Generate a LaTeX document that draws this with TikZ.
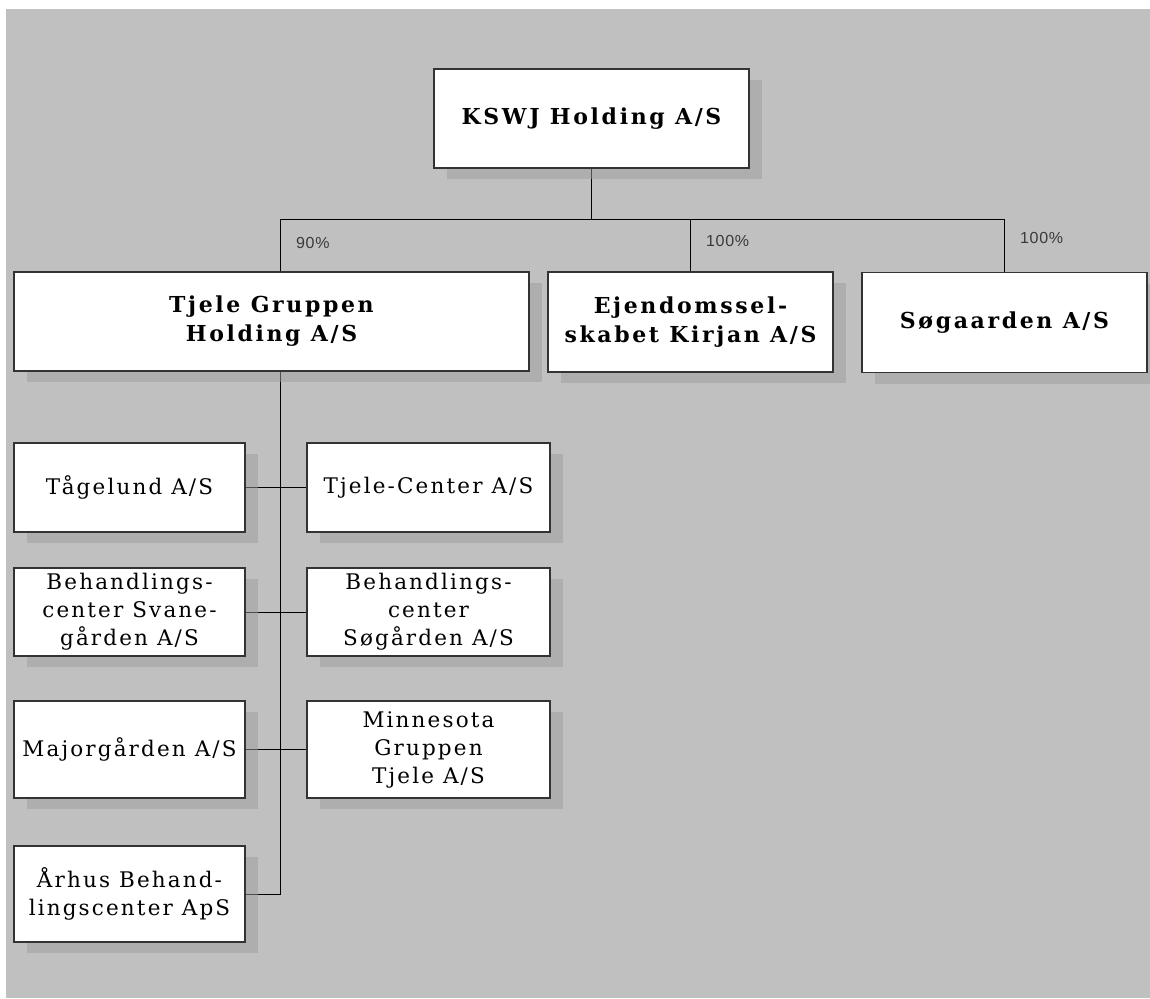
\documentclass[tikz,border=0pt]{standalone}
\usepackage{fontspec}
\usepackage{tikz}
\usetikzlibrary{shadows,backgrounds}
\setmainfont{DejaVu Serif}
\newfontfamily\unitfont{DejaVu Serif}[LetterSpace=10]
\newfontfamily\headfont{DejaVu Serif}[LetterSpace=12]
\newfontfamily\pctfont{Liberation Sans}[LetterSpace=4]
\definecolor{paper}{HTML}{C0C0C0}
\definecolor{edge}{HTML}{333333}
\definecolor{shade}{HTML}{9E9E9E}
\definecolor{pcttext}{HTML}{3A3A3A}
\tikzset{
  firm/.style={draw=edge, fill=white, line width=1.2pt, align=center, inner sep=2pt,
               drop shadow={shadow xshift=13pt, shadow yshift=-11pt, fill=shade, opacity=0.5}},
  head/.style={firm, font=\headfont\bfseries\fontsize{22}{29}\selectfont},
  unit/.style={firm, font=\unitfont\fontsize{21.5}{28}\selectfont},
  leftunit/.style={unit, minimum width=231pt},
  rightunit/.style={unit, minimum width=243pt},
  link/.style={draw=black, line width=1pt},
  pct/.style={font=\pctfont\fontsize{16}{18}\selectfont, text=pcttext, anchor=west, inner sep=0pt},
}

\begin{document}
\begin{tikzpicture}[x=1pt, y=-1pt]
  \useasboundingbox (0,0) rectangle (1150,998);
  % top holding and the three owned firms
  \node[head, minimum width=315pt, minimum height=99pt] (kswj) at (591.5,118.5) {KSWJ Holding A/S};
  \node[head, minimum width=515pt, minimum height=99pt] (tjele) at (271.5,321.5) {Tjele Gruppen\\ Holding A/S};
  \node[head, minimum width=285pt, minimum height=100pt] (ejd) at (690.5,322) {Ejendomssel-\\skabet Kirjan A/S};
  \node[head, minimum width=285pt, minimum height=100pt] (sog) at (1004.5,322.5) {Søgaarden A/S};
  \node[pct] (p90) at (296,243) {90\%};
  \node[pct] (p100a) at (706,241) {100\%};
  \node[pct] (p100b) at (1020,238) {100\%};
  % companies under Tjele Gruppen
  \node[leftunit, minimum height=89pt] (tag) at (129.5,487.5) {Tågelund A/S};
  \node[rightunit, minimum height=89pt] (tjc) at (428.5,487.5) {Tjele-Center A/S};
  \node[leftunit, minimum height=88pt] (svane) at (129.5,612) {Behandlings-\\center Svane-\\gården A/S};
  \node[rightunit, minimum height=88pt] (sogc) at (428.5,612) {Behandlings-\\center\\Søgården A/S};
  \node[leftunit, minimum height=97pt] (major) at (129.5,749.5) {Majorgården A/S};
  \node[rightunit, minimum height=97pt] (minn) at (428.5,749.5) {Minnesota\\Gruppen\\ Tjele A/S};
  \node[leftunit, minimum height=96pt] (arh) at (129.5,894) {Århus Behand-\\lingscenter ApS};
  \begin{scope}[on background layer]
    \fill[paper] (6,9) rectangle (1150,998);
    \coordinate (busL) at (280,219);
    \coordinate (busR) at (sog.north |- busL);
    \draw[link] (kswj.south) -- (kswj.south |- busL);
    \draw[link] (busL |- tjele.north) -- (busL) -- (busR) -- (sog.north);
    \draw[link] (ejd.north) -- (ejd.north |- busL);
    \draw[link] (busL |- tjele.south) -- (busL |- arh.east) -- (arh.east);
    \draw[link] (tag.east) -- (tjc.west);
    \draw[link] (svane.east) -- (sogc.west);
    \draw[link] (major.east) -- (minn.west);
  \end{scope}
\end{tikzpicture}
\end{document}
